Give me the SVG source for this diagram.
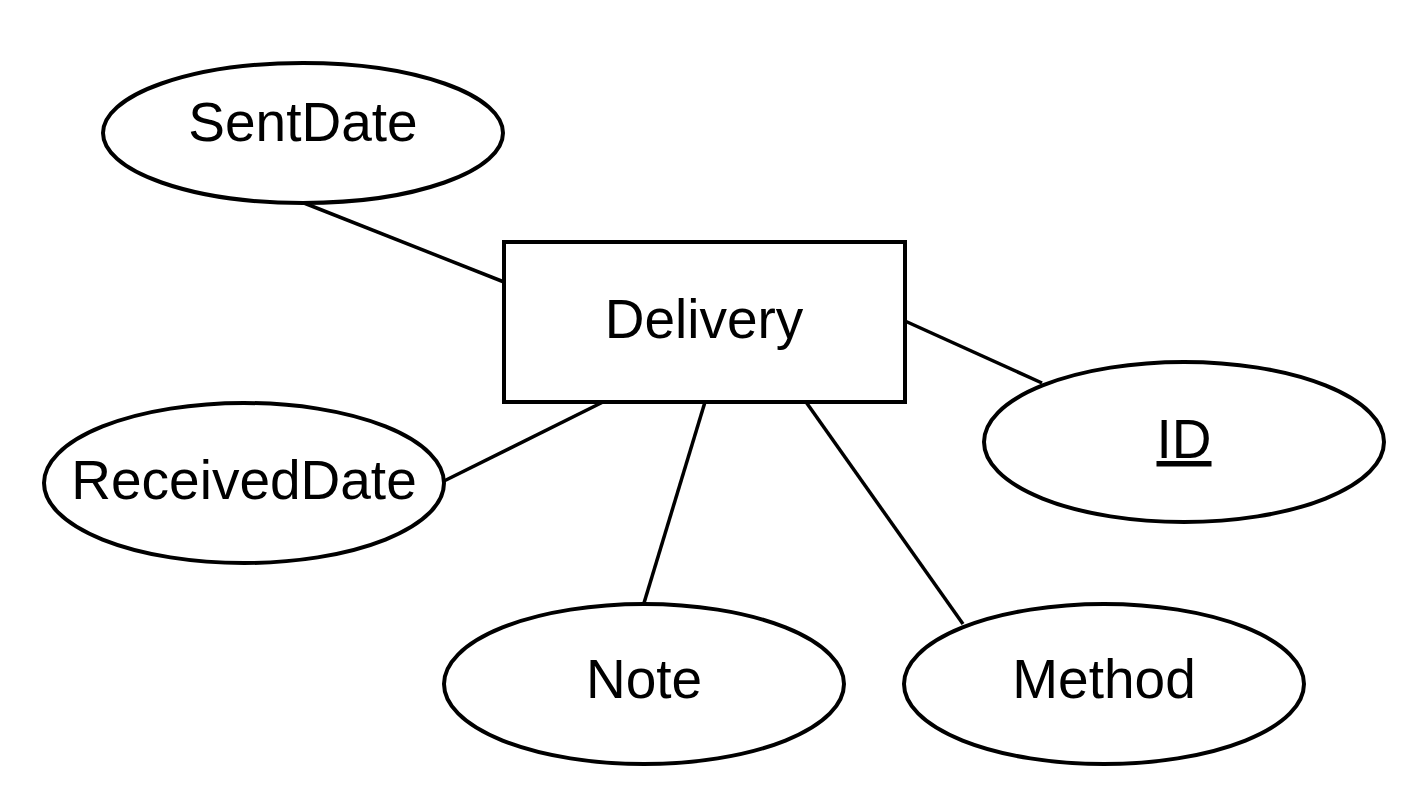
<svg xmlns="http://www.w3.org/2000/svg" width="1428" height="808" viewBox="0 0 1428 808">
<style>
.shape{fill:#fff;stroke:#000;stroke-width:4}
.conn line{stroke:#000;stroke-width:3.5}
text{font-family:"Liberation Sans",Arial,sans-serif;font-size:55px;fill:#000;text-anchor:middle}
</style>
<rect width="1428" height="808" fill="#fff"/>
<g id="connectors" class="conn">
<line x1="304" y1="203" x2="504" y2="282"/>
<line x1="905" y1="321" x2="1042" y2="383"/>
<line x1="603" y1="402" x2="444" y2="481"/>
<line x1="705" y1="402" x2="644" y2="603"/>
<line x1="806" y1="402" x2="963" y2="624"/>
</g>
<g id="SentDate"><ellipse class="shape" cx="303" cy="133" rx="200" ry="70"/><text x="303" y="141">SentDate</text></g>
<g id="Delivery"><rect class="shape" x="504" y="242" width="401" height="160" stroke-width="4.5"/><text x="704" y="338">Delivery</text></g>
<g id="ID"><ellipse class="shape" cx="1184" cy="442" rx="200" ry="80"/><text x="1184" y="458" text-decoration="underline">ID</text></g>
<g id="ReceivedDate"><ellipse class="shape" cx="244" cy="483" rx="200" ry="80"/><text x="244" y="499">ReceivedDate</text></g>
<g id="Note"><ellipse class="shape" cx="644" cy="684" rx="200" ry="80"/><text x="644" y="698">Note</text></g>
<g id="Method"><ellipse class="shape" cx="1104" cy="684" rx="200" ry="80"/><text x="1104" y="698">Method</text></g>
</svg>
